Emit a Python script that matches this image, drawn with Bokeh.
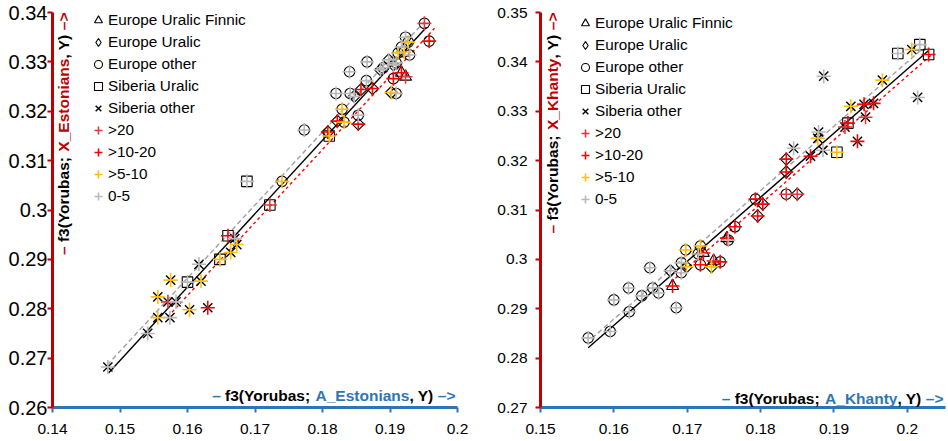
import math
import pandas as pd
from bokeh.plotting import figure
from bokeh.models import (ColumnDataSource, Range1d, FixedTicker, CustomJSTickFormatter,
                          Label, Legend, LegendItem)
from bokeh.layouts import row
from bokeh.embed import file_html
from bokeh.resources import INLINE

# ---------------- categories ----------------
group_codes = ["EF", "EU", "EO", "SU", "SO"]
group_labels = ["Europe Uralic Finnic", "Europe Uralic", "Europe other", "Siberia Uralic", "Siberia other"]
share_codes = ["20", "10", "5", "0"]
share_labels = [">20", ">10-20", ">5-10", "0-5"]

# ---------------- chart 1: Estonians ----------------
est_x = [0.1482, 0.1541, 0.1556, 0.1574, 0.1556, 0.1571, 0.1583, 0.1603, 0.1630, 0.1575,
         0.1620, 0.1617, 0.1664, 0.1670, 0.1673,
         0.1600, 0.1648, 0.1660, 0.1722, 0.1688, 0.1810,
         0.1740, 0.1773, 0.1829, 0.1832, 0.1853, 0.1820, 0.1841, 0.1865, 0.1840, 0.1866,
         0.1890, 0.1909, 0.1905, 0.1909, 0.1912, 0.1921, 0.1929, 0.1923, 0.1927, 0.1951,
         0.1958, 0.1917,
         0.1808, 0.1822, 0.1853, 0.1847, 0.1857, 0.1874, 0.1886, 0.1898, 0.1905, 0.1902,
         0.1917, 0.1923]
est_y = [0.2682, 0.2750, 0.2782, 0.2782, 0.2824, 0.2814, 0.2814, 0.2798, 0.2802, 0.2858,
         0.2856, 0.2890, 0.2914, 0.2942, 0.2930,
         0.2854, 0.2900, 0.2948, 0.3010, 0.3058, 0.3150,
         0.3058, 0.3162, 0.3204, 0.3178, 0.3192, 0.3236, 0.3236, 0.3262, 0.3280, 0.3300,
         0.3288, 0.3298, 0.3266, 0.3236, 0.3318, 0.3320, 0.3314, 0.3350, 0.3340, 0.3378,
         0.3342, 0.3330,
         0.3158, 0.3180, 0.3174, 0.3230, 0.3244, 0.3246, 0.3284, 0.3304, 0.3294, 0.3238,
         0.3278, 0.3270]
est_group = ["SO"] * 15 + ["SU"] * 6 + ["EO"] * 22 + ["EU"] * 10 + ["EF"] * 2
est_share = ["0", "0", "5", "0", "5", "20", "0", "5", "10", "5",
             "5", "0", "5", "0", "5",
             "0", "5", "10", "20", "0", "5",
             "5", "0", "5", "5", "0", "0", "0", "0", "0", "0",
             "0", "0", "10", "0", "5", "5", "0", "0", "5", "20",
             "10", "0",
             "10", "10", "10", "0", "10", "10", "0", "0", "0", "5",
             "10", "20"]
est_x_ticks = [0.14, 0.15, 0.16, 0.17, 0.18, 0.19, 0.2]
est_y_ticks = [0.26, 0.27, 0.28, 0.29, 0.3, 0.31, 0.32, 0.33, 0.34]
est_fit_x = [0.1483, 0.1954]
est_fit_black = [0.2670, 0.3370]
est_fit_gray_x = [0.1481, 0.1950]
est_fit_gray = [0.2686, 0.3380]
est_fit_red_x = [0.1571, 0.1966]
est_fit_red = [0.2784, 0.3368]

# ---------------- chart 2: Khanty ----------------
kh_x = [0.1565, 0.1595, 0.1600, 0.1620, 0.1621, 0.1638, 0.1649, 0.1653, 0.1661, 0.1685,
        0.1692, 0.1692, 0.1698, 0.1718, 0.1715, 0.1718, 0.1745, 0.1756, 0.1765, 0.1793,
        0.1835,
        0.1677, 0.1699, 0.1733, 0.1803, 0.1796, 0.1850, 0.1835, 0.1835,
        0.1680, 0.1722, 0.1736, 0.1754,
        0.1845, 0.1868, 0.1879, 0.1878, 0.1885, 0.1886, 0.1932, 0.1915, 0.1923, 0.1941,
        0.1954, 0.1943, 0.1966, 0.2014, 0.2006,
        0.1904, 0.1919, 0.1987, 0.2017, 0.2029]
kh_y = [0.2841, 0.2854, 0.2918, 0.2942, 0.2894, 0.2926, 0.2983, 0.2942, 0.2932, 0.2902,
        0.2993, 0.2973, 0.3019, 0.3027, 0.3011, 0.2989, 0.2995, 0.3039, 0.3066, 0.3122,
        0.3132,
        0.2977, 0.2985, 0.2985, 0.3112, 0.3088, 0.3132, 0.3177, 0.3203,
        0.2946, 0.3013, 0.2997, 0.3043,
        0.3225, 0.3209, 0.3258, 0.3245, 0.3221, 0.3371, 0.3239, 0.3268, 0.3310, 0.3314,
        0.3316, 0.3288, 0.3363, 0.3328, 0.3425,
        0.3217, 0.3276, 0.3417, 0.3435, 0.3415]
kh_group = ["EO"] * 21 + ["EU"] * 8 + ["EF"] * 4 + ["SO"] * 15 + ["SU"] * 5
kh_share = ["0", "0", "0", "0", "0", "0", "0", "0", "0", "0",
            "0", "0", "5", "5", "0", "10", "10", "0", "10", "10",
            "20",
            "0", "5", "5", "10", "10", "20", "10", "10",
            "10", "10", "20", "10",
            "0", "10", "0", "5", "0", "0", "10", "20", "5", "10",
            "10", "20", "5", "0", "5",
            "5", "10", "0", "0", "10"]
kh_x_ticks = [0.15, 0.16, 0.17, 0.18, 0.19, 0.2]
kh_y_ticks = [0.27, 0.28, 0.29, 0.3, 0.31, 0.32, 0.33, 0.34, 0.35]
kh_fit_x = [0.1565, 0.2029]
kh_fit_black = [0.2821, 0.3423]
kh_fit_gray_x = [0.1570, 0.2020]
kh_fit_gray = [0.2840, 0.3426]
kh_fit_red_x = [0.1684, 0.2032]
kh_fit_red = [0.2962, 0.3413]

# ---------------- styling ----------------
RED_AX = "#C00000"
BLUE_AX = "#2E75B6"
MARKERS = {"EF": ("triangle", 12, 0.0, 1.1), "EU": ("square", 8.5, math.pi / 4, 1.1),
           "EO": ("circle", 10.5, 0.0, 1.1), "SU": ("square", 10.5, 0.0, 1.1),
           "SO": ("x", 13, 0.0, 1.4)}
LEGEND_MARKER = {"EF": "triangle", "EU": "diamond", "EO": "circle", "SU": "square", "SO": "x"}
SHARE_COL = {"20": "#E03A3A", "10": "#FF0000", "5": "#FFC000", "0": "#B8B8B8"}
FONT = "Liberation Sans"
H = 441

BOLD_W = {"–": 556, " ": 278, "f": 333, "3": 556, "(": 333, "Y": 667, "o": 611, "r": 389,
          "u": 611, "b": 611, "a": 556, "s": 556, ";": 333, "A": 722, "_": 556, "E": 667,
          "t": 333, "n": 611, "i": 278, ",": 278, ")": 333, ">": 584, "X": 667, "K": 722,
          "h": 611, "y": 556}


def text_w(s, size):
    return sum(BOLD_W.get(c, 556) for c in s) / 1000.0 * size


def add_title(p, segs, x, y, size, vertical, end_gap, across):
    total = sum(text_w(s, size) for s, _ in segs)
    cur = -total - end_gap
    for s, c in segs:
        kw = dict(x=x, y=y, text=s.rstrip(), text_color=c, text_font=FONT,
                  text_font_style="bold", text_font_size=f"{size}px",
                  text_align="left", text_baseline="middle")
        if vertical:
            kw.update(x_offset=across, y_offset=cur, angle=math.pi / 2)
        else:
            kw.update(x_offset=cur, y_offset=across)
        p.add_layout(Label(**kw))
        cur += text_w(s, size)


def make_plot(xs, ys, grp, shr, xr, yr, xticks, yticks, fits, xname, yname,
              width, mb_left, mb_right, mb_top, mb_bottom, ylab_size, ylab_standoff,
              xlab_standoff, leg_vx, leg_top, leg_standoff, ytitle_dx, xtitle_dy, xtitle_gap):
    df = pd.DataFrame(dict(x=xs, y=ys, g=grp, s=shr))
    p = figure(width=width, height=H, output_backend="svg", toolbar_location=None,
               x_range=Range1d(*xr), y_range=Range1d(*yr),
               min_border_left=mb_left, min_border_right=mb_right,
               min_border_top=mb_top, min_border_bottom=mb_bottom)
    p.outline_line_color = None
    p.grid.visible = False
    fmt = CustomJSTickFormatter(code="return (Math.round(tick*100)/100).toString();")

    xa = p.xaxis[0]
    xa.ticker = FixedTicker(ticks=xticks)
    xa.formatter = fmt
    xa.axis_line_color = BLUE_AX
    xa.axis_line_width = 3
    xa.major_tick_line_color = BLUE_AX
    xa.major_tick_line_width = 2
    xa.major_tick_in = 0
    xa.major_tick_out = 5
    xa.minor_tick_line_color = None
    xa.major_label_text_font = FONT
    xa.major_label_text_font_size = "15.5px"
    xa.major_label_text_color = "black"
    xa.major_label_standoff = xlab_standoff

    ya = p.yaxis[0]
    ya.ticker = FixedTicker(ticks=yticks)
    ya.formatter = fmt
    ya.axis_line_color = RED_AX
    ya.axis_line_width = 3
    ya.major_tick_line_color = RED_AX
    ya.major_tick_line_width = 2
    ya.major_tick_in = 0
    ya.major_tick_out = 5
    ya.minor_tick_line_color = None
    ya.major_label_text_font = FONT
    ya.major_label_text_font_size = ylab_size
    ya.major_label_text_color = "black"
    ya.major_label_standoff = ylab_standoff

    (fx, fb), (gx, gy), (rx, ry) = fits
    p.line(fx, fb, line_color="black", line_width=1.4)
    p.line(gx, gy, line_color="#A0A0A0", line_width=1.4, line_dash="5 3")
    p.line(rx, ry, line_color="#FF0000", line_width=1.4, line_dash="3 3")

    items = []
    for code, lab in zip(group_codes, group_labels):
        m, sz, ang, lw = MARKERS[code]
        src = ColumnDataSource(df[df.g == code])
        r = p.scatter("x", "y", source=src, marker=m, size=sz, angle=ang,
                      line_color="black", fill_color=None, line_width=lw)
        if LEGEND_MARKER[code] != m:
            # legend swatch: same points, zero size on the plot (legend glyph has its own size)
            r = p.scatter("x", "y", source=src, marker=LEGEND_MARKER[code], size=0,
                          line_color="black", fill_color=None, line_width=lw)
        items.append(LegendItem(label=lab, renderers=[r]))
    for code, lab in zip(share_codes, share_labels):
        sub = df[df.s == code]
        r = p.scatter("x", "y", source=ColumnDataSource(sub), marker="cross", size=14,
                      line_color=SHARE_COL[code], line_width=1.6)
        items.append(LegendItem(label=lab, renderers=[r]))

    frame_h = H - mb_top - mb_bottom
    leg_h = 9 * 20 + 8 * 2
    legend = Legend(items=items, location=(leg_vx, frame_h - leg_top - leg_h),
                    glyph_width=20, glyph_height=20, label_height=20, spacing=2,
                    label_standoff=leg_standoff, padding=0, margin=0,
                    border_line_color=None, background_fill_alpha=0,
                    label_text_font=FONT, label_text_font_size="15.3px",
                    label_text_color="black")
    p.add_layout(legend, "center")

    add_title(p, [("– ", RED_AX), ("f3(Yorubas; ", "black"), (yname, RED_AX),
                  (", Y) ", "black"), ("–>", RED_AX)],
              xr[0], yr[1], 15.5, True, 0, ytitle_dx)
    add_title(p, [("– ", BLUE_AX), ("f3(Yorubas; ", "black"), (xname, BLUE_AX),
                  (", Y) ", "black"), ("–>", BLUE_AX)],
              xr[1], yr[0], 15.5, False, xtitle_gap, xtitle_dy)
    return p


p1 = make_plot(est_x, est_y, est_group, est_share, (0.14, 0.2), (0.26, 0.34),
               est_x_ticks, est_y_ticks,
               [(est_fit_x, est_fit_black), (est_fit_gray_x, est_fit_gray), (est_fit_red_x, est_fit_red)],
               "A_Estonians", "X_Estonians",
               width=470, mb_left=52, mb_right=13, mb_top=12, mb_bottom=29,
               ylab_size="20px", ylab_standoff=0, xlab_standoff=11,
               leg_vx=36, leg_top=3, leg_standoff=-4, ytitle_dx=11, xtitle_dy=12, xtitle_gap=2)
p2 = make_plot(kh_x, kh_y, kh_group, kh_share, (0.15, 0.2052), (0.27, 0.35),
               kh_x_ticks, kh_y_ticks,
               [(kh_fit_x, kh_fit_black), (kh_fit_gray_x, kh_fit_gray), (kh_fit_red_x, kh_fit_red)],
               "A_Khanty", "X_Khanty",
               width=478, mb_left=70, mb_right=3, mb_top=11, mb_bottom=34,
               ylab_size="15.5px", ylab_standoff=8, xlab_standoff=11,
               leg_vx=35, leg_top=2, leg_standoff=-6, ytitle_dx=12, xtitle_dy=9, xtitle_gap=2)

layout = row(p1, p2)
open("out.html", "w").write(file_html(layout, INLINE))
